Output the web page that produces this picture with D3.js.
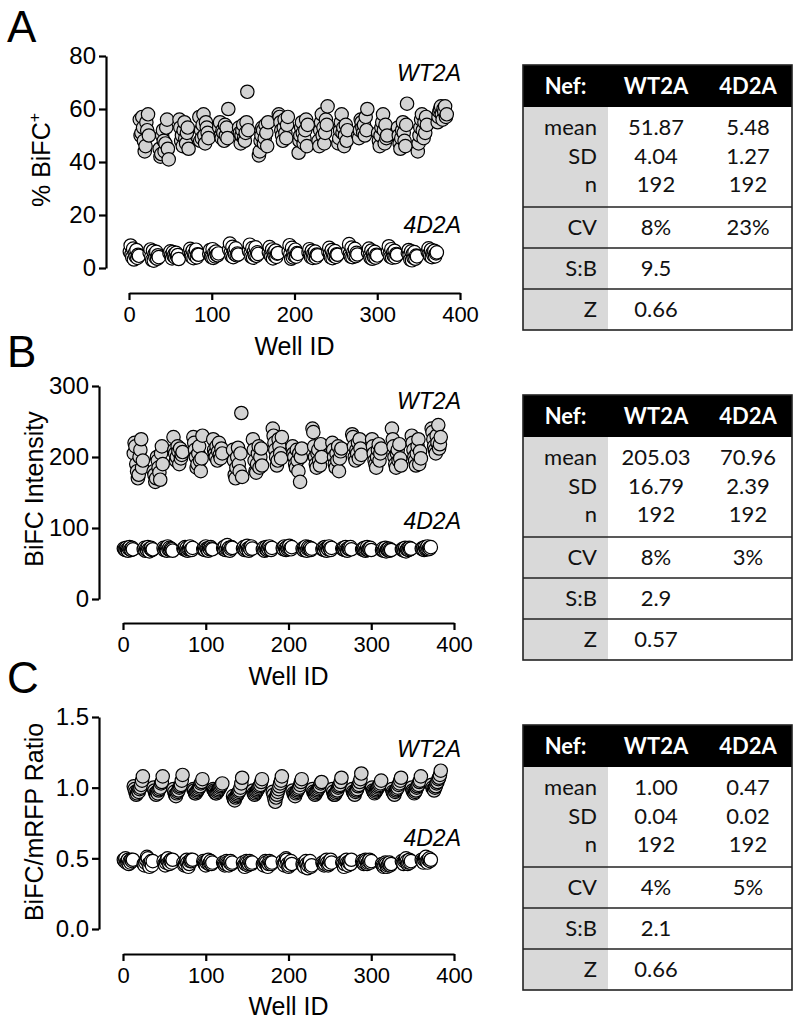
<!DOCTYPE html>
<html><head><meta charset="utf-8">
<script src="https://cdn.jsdelivr.net/npm/d3@7"></script>
<style>body{margin:0;background:#fff}svg{display:block}</style>
</head><body>
<svg id="c" width="800" height="1024"></svg>
<script>
// ---- plate layout (Well IDs): 16 rows x 24 columns, 4D2A in columns 1-12, WT2A in 13-24
const plateRows = 16, plateCols = 24, halfCols = 12;
const wells4D = d3.range(plateRows).flatMap(r => d3.range(halfCols).map(i => r * plateCols + 1 + i));
const wellsWT = d3.range(plateRows).flatMap(r => d3.range(halfCols).map(i => r * plateCols + halfCols + 1 + i));

// ---- Panel A: % BiFC+
const A_WT = [
 56,50,51,57,53,48,44,46,55,52,58,50, 45,42,43,50,52,48,44,47,53,56,45,41,
 56,53,48,50,46,52,55,49,47,51,53,45, 57,48,52,49,54,58,50,47,55,53,51,49,
 53,55,50,49,52,51,48,54,50,53,49,60, 53,51,47,50,52,54,49,48,51,55,66.5,52,
 42.5,44,48,50,53,52,47,49,54,51,46,55, 58,57,55,52,50,48,53,56,51,49,54,57,
 43.5,48,50,53,55,51,47,49,52,56,46,54, 48,46,52,55,58,50,53,47,51,56,54,61,
 47,49,52,55,58,51,53,46,50,54,48,52, 50,49,52,56,55,53,51,54,50,57,52,60,
 51,48,46,50,53,55,58,52,47,54,49,50, 53,50,47,45,49,52,55,51,48,46,54,62,
 44,47,50,53,56,58,52,49,55,51,57,54, 55,57,59,60,61,58,56,60,59,61,57,58];
const A_4D = [
 6.2,8.5,5.1,4.0,7.3,3.2,5.6,4.4,6.8,3.8,5.0,4.6, 5.8,7.0,4.2,3.0,6.5,2.8,5.3,4.0,6.1,3.5,4.8,4.1,
 5.5,6.3,4.8,3.6,6.0,4.5,5.2,3.9,5.7,4.3,4.9,3.4, 6.0,7.2,5.1,4.2,6.6,3.7,5.4,4.6,6.9,4.0,5.2,5.0,
 5.3,6.8,4.5,4.0,7.1,3.8,5.7,4.4,6.2,5.0,4.8,5.5, 7.0,9.2,5.8,4.5,8.0,4.1,6.3,5.2,7.4,4.8,5.5,5.1,
 6.5,8.8,5.5,4.2,7.5,3.9,6.2,4.9,7.8,4.6,5.9,5.3, 6.0,7.9,5.0,4.3,7.0,3.6,5.8,4.7,6.6,4.2,5.4,5.6,
 6.3,8.6,5.2,3.5,7.6,4.0,5.9,4.6,6.9,4.3,5.6,5.3, 5.9,7.1,4.9,4.1,6.5,3.8,5.5,4.4,6.2,4.0,5.1,4.8,
 6.1,7.6,5.3,4.0,6.8,3.7,5.6,4.5,6.4,4.2,5.2,5.0, 6.6,9.0,5.4,4.3,7.7,4.1,6.0,4.8,7.2,4.5,5.7,5.1,
 5.8,7.3,4.8,3.8,6.6,3.5,5.4,4.2,6.1,3.9,5.0,4.7, 6.3,8.2,5.1,4.2,7.1,3.9,5.7,4.6,6.5,4.1,5.3,5.0,
 5.7,6.8,4.9,3.2,6.3,2.9,5.3,3.8,6.0,3.5,4.7,4.4, 6.2,7.4,5.4,4.5,6.9,4.1,5.8,4.8,6.5,4.4,5.5,5.9];

// ---- Panel B: BiFC Intensity
const B_WT = [
 205,220,215,190,180,170,175,200,210,225,185,195, 180,175,165,170,200,195,185,178,168,205,215,190,
 228,210,205,195,200,215,208,190,212,198,203,207, 228,220,210,200,185,190,205,215,195,180,198,230,
 225,210,205,200,215,195,208,220,203,198,212,205, 210,195,175,170,185,200,213,190,180,205,262,172,
 225,210,195,180,178,190,205,215,185,200,212,188, 240,230,220,210,200,188,195,225,215,205,198,228,
 215,205,200,190,185,210,195,180,205,165,200,212, 240,235,215,200,190,185,205,210,195,188,218,200,
 220,210,200,190,185,205,195,215,180,198,208,212, 232,228,215,200,195,210,205,220,198,225,212,203,
 225,215,205,195,190,185,200,210,218,195,205,212, 240,225,215,200,190,185,205,210,195,218,198,188,
 230,220,210,200,195,188,205,215,225,190,208,198, 240,235,225,215,210,205,230,220,245,212,218,228];
const B_4D = [
 71,70,69,72,70,68,71,73,70,69,72,70, 70,72,68,71,69,73,70,67,71,72,69,70,
 72,69,71,70,68,74,70,72,69,71,70,68, 71,70,73,69,72,68,70,71,74,70,69,72,
 70,72,69,74,71,70,68,72,70,73,71,70, 72,70,74,69,71,76,70,72,68,71,73,72,
 71,73,69,72,70,75,71,68,72,70,74,71, 70,72,68,71,73,69,72,70,74,71,69,72,
 72,70,74,71,69,73,70,72,75,71,70,73, 71,69,72,70,74,68,71,73,70,72,69,71,
 70,72,69,73,71,68,72,70,74,71,69,72, 71,70,72,69,73,70,68,71,72,70,73,70,
 70,71,69,72,68,70,73,69,71,70,72,69, 69,71,68,70,72,67,70,69,71,68,70,69,
 70,69,71,68,72,67,70,71,69,72,70,71, 71,70,72,69,73,70,71,74,70,72,71,73];

// ---- Panel C: BiFC/mRFP Ratio
const C_WT = [
 1.01,0.99,0.97,0.95,0.96,0.98,0.97,0.99,1.00,1.02,1.05,1.08, 1.00,0.98,0.96,0.95,0.97,0.96,0.98,0.99,1.00,1.03,1.04,1.08,
 0.99,0.97,0.95,0.94,0.96,0.97,0.98,1.00,1.01,1.02,1.05,1.09, 0.99,0.98,0.96,0.96,0.97,0.98,0.99,1.00,1.01,1.03,1.04,1.06,
 0.99,0.98,0.97,0.96,0.96,0.97,0.98,0.99,1.00,1.01,1.02,1.03, 0.94,0.92,0.91,0.93,0.94,0.95,0.96,0.97,0.98,1.00,1.03,1.07,
 0.98,0.96,0.95,0.96,0.97,0.98,0.99,1.00,1.01,1.02,1.04,1.06, 0.97,0.95,0.92,0.90,0.93,0.95,0.97,0.99,1.01,1.03,1.05,1.08,
 0.98,0.96,0.95,0.94,0.96,0.97,0.98,0.99,1.00,1.02,1.04,1.06, 0.99,0.97,0.96,0.95,0.96,0.97,0.98,0.99,1.00,1.01,1.03,1.04,
 0.99,0.97,0.95,0.95,0.96,0.97,0.98,1.00,1.01,1.02,1.04,1.07, 0.99,0.97,0.96,0.95,0.97,0.98,0.99,1.01,1.02,1.04,1.06,1.10,
 1.00,0.98,0.97,0.96,0.97,0.98,0.99,1.00,1.01,1.02,1.03,1.05, 0.99,0.97,0.96,0.95,0.97,0.98,0.99,1.00,1.02,1.03,1.05,1.07,
 1.00,0.98,0.97,0.96,0.97,0.98,1.00,1.01,1.02,1.04,1.05,1.08, 1.02,1.00,0.99,0.98,1.00,1.01,1.03,1.04,1.06,1.07,1.09,1.12];
const C_4D = [
 0.49,0.48,0.50,0.47,0.48,0.49,0.46,0.48,0.47,0.49,0.48,0.49, 0.46,0.45,0.47,0.49,0.51,0.50,0.46,0.44,0.47,0.48,0.45,0.48,
 0.48,0.46,0.45,0.47,0.49,0.50,0.47,0.46,0.48,0.49,0.47,0.49, 0.47,0.45,0.46,0.48,0.49,0.47,0.44,0.46,0.48,0.49,0.48,0.49,
 0.48,0.47,0.46,0.45,0.47,0.48,0.49,0.46,0.47,0.48,0.46,0.47, 0.47,0.46,0.45,0.46,0.48,0.47,0.46,0.45,0.47,0.48,0.46,0.47,
 0.47,0.45,0.44,0.46,0.48,0.47,0.45,0.46,0.48,0.47,0.46,0.47, 0.46,0.45,0.47,0.48,0.47,0.45,0.44,0.46,0.48,0.47,0.46,0.47,
 0.48,0.46,0.45,0.47,0.50,0.49,0.46,0.44,0.45,0.47,0.48,0.46, 0.46,0.45,0.44,0.47,0.48,0.46,0.43,0.45,0.47,0.48,0.44,0.45,
 0.47,0.46,0.45,0.46,0.48,0.49,0.47,0.45,0.46,0.48,0.49,0.47, 0.47,0.46,0.44,0.46,0.48,0.49,0.47,0.45,0.47,0.48,0.46,0.49,
 0.48,0.47,0.46,0.47,0.49,0.48,0.46,0.47,0.48,0.49,0.47,0.48, 0.46,0.45,0.44,0.45,0.47,0.46,0.44,0.45,0.46,0.47,0.45,0.46,
 0.48,0.47,0.46,0.48,0.49,0.50,0.48,0.46,0.47,0.49,0.47,0.48, 0.49,0.48,0.47,0.49,0.50,0.51,0.48,0.47,0.49,0.50,0.48,0.49];

// ---- ticks
const xTicks = [0, 100, 200, 300, 400];
const yTicksA = [0, 20, 40, 60, 80];
const yTicksB = [0, 100, 200, 300];
const yTicksC = [0, 0.5, 1.0, 1.5];

// ---- tables
const tableHeader = ["Nef:", "WT2A", "4D2A"];
const tableRowLabels = ["mean", "SD", "n", "CV", "S:B", "Z"];
const statsA_WT = ["51.87", "4.04", "192", "8%", "9.5", "0.66"];
const statsA_4D = ["5.48", "1.27", "192", "23%", "", ""];
const statsB_WT = ["205.03", "16.79", "192", "8%", "2.9", "0.57"];
const statsB_4D = ["70.96", "2.39", "192", "3%", "", ""];
const statsC_WT = ["1.00", "0.04", "192", "4%", "2.1", "0.66"];
const statsC_4D = ["0.47", "0.02", "192", "5%", "", ""];

const FONT = "'Liberation Sans', Arial, Helvetica, sans-serif";
const TFONT = "Lato, 'Open Sans', sans-serif";
const svg = d3.select("#c");

const panels = [
  {letter: "A", letterY: 42, wt: A_WT, d4: A_4D, yDomain: [0, 80], yTicks: yTicksA, yFmt: d3.format("d"),
   ytitle: "% BiFC", sup: "+", titleX: 50, titleY: 160,
   yAxisX: 106, yTop: 56, yBot: 268, xAxisY: 293, xL: 129, xR: 460, wellY: 355,
   wtLabY: 81, d4LabY: 233, tableTop: 65, sWT: statsA_WT, s4D: statsA_4D},
  {letter: "B", letterY: 367, wt: B_WT, d4: B_4D, yDomain: [0, 300], yTicks: yTicksB, yFmt: d3.format("d"),
   ytitle: "BiFC Intensity", sup: null, titleX: 43, titleY: 489,
   yAxisX: 99, yTop: 386, yBot: 599, xAxisY: 623, xL: 123, xR: 454, wellY: 685,
   wtLabY: 409, d4LabY: 529, tableTop: 395, sWT: statsB_WT, s4D: statsB_4D},
  {letter: "C", letterY: 693, wt: C_WT, d4: C_4D, yDomain: [0, 1.5], yTicks: yTicksC, yFmt: d3.format(".1f"),
   ytitle: "BiFC/mRFP Ratio", sup: null, titleX: 43, titleY: 822,
   yAxisX: 99, yTop: 717, yBot: 929, xAxisY: 954, xL: 123, xR: 454, wellY: 1015,
   wtLabY: 757, d4LabY: 846, tableTop: 725, sWT: statsC_WT, s4D: statsC_4D}
];

function styleAxis(g, size) {
  g.attr("font-family", null).attr("font-size", null);
  g.select(".domain").attr("stroke", "#000").attr("stroke-width", 2.2);
  g.selectAll(".tick line").attr("stroke", "#000").attr("stroke-width", 2.2);
  g.selectAll(".tick text").attr("fill", "#000").style("font-family", FONT).style("font-size", size);
}

panels.forEach(p => {
  const x = d3.scaleLinear().domain([0, 400]).range([p.xL, p.xR]);
  const y = d3.scaleLinear().domain(p.yDomain).range([p.yBot, p.yTop]);

  svg.append("text").attr("x", 7).attr("y", p.letterY).text(p.letter)
    .style("font-family", FONT).style("font-size", "44px").attr("fill", "#000");

  const gy = svg.append("g").attr("transform", `translate(${p.yAxisX},0)`)
    .call(d3.axisLeft(y).tickValues(p.yTicks).tickFormat(p.yFmt).tickSize(7).tickSizeOuter(0).tickPadding(3));
  styleAxis(gy, "24px");

  const gx = svg.append("g").attr("transform", `translate(0,${p.xAxisY})`)
    .call(d3.axisBottom(x).tickValues(xTicks).tickFormat(d3.format("d")).tickSize(7).tickSizeOuter(0).tickPadding(6));
  styleAxis(gx, "22px");

  svg.append("text").attr("x", (p.xL + p.xR) / 2).attr("y", p.wellY).attr("text-anchor", "middle")
    .text("Well ID").style("font-family", FONT).style("font-size", "25px");

  const t = svg.append("text").attr("transform", `translate(${p.titleX},${p.titleY}) rotate(-90)`)
    .attr("text-anchor", "middle").style("font-family", FONT).style("font-size", "25px");
  t.append("tspan").text(p.ytitle);
  if (p.sup) t.append("tspan").attr("dy", "-0.6em").style("font-size", "16px").text(p.sup);

  // points
  const gp = svg.append("g");
  gp.selectAll("circle.wt").data(p.wt).join("circle").attr("class", "wt")
    .attr("cx", (d, i) => x(wellsWT[i])).attr("cy", d => y(d)).attr("r", 6.7)
    .attr("fill", "#d3d3d3").attr("stroke", "#000").attr("stroke-width", 1.2);
  gp.selectAll("circle.d4").data(p.d4).join("circle").attr("class", "d4")
    .attr("cx", (d, i) => x(wells4D[i])).attr("cy", d => y(d)).attr("r", 6.7)
    .attr("fill", "#fff").attr("stroke", "#000").attr("stroke-width", 1.2);

  svg.append("text").attr("x", 461).attr("y", p.wtLabY).attr("text-anchor", "end").text("WT2A")
    .style("font-family", FONT).style("font-size", "23px").style("font-style", "italic");
  svg.append("text").attr("x", 461).attr("y", p.d4LabY).attr("text-anchor", "end").text("4D2A")
    .style("font-family", FONT).style("font-size", "23px").style("font-style", "italic");

  // table
  const tx0 = 523, tx1 = 792, gx1 = 608, c1 = 656, c2 = 748, top = p.tableTop;
  const hH = 42, bottom = top + 265;
  const tg = svg.append("g");
  tg.append("rect").attr("x", tx0).attr("y", top).attr("width", tx1 - tx0).attr("height", hH).attr("fill", "#000");
  tg.append("rect").attr("x", tx0).attr("y", top + hH).attr("width", gx1 - tx0).attr("height", bottom - top - hH).attr("fill", "#d9d9d9");
  [142, 183, 224].forEach(o => tg.append("line").attr("x1", tx0).attr("x2", tx1).attr("y1", top + o).attr("y2", top + o)
    .attr("stroke", "#222").attr("stroke-width", 1.6));
  tg.append("rect").attr("x", tx0).attr("y", top).attr("width", tx1 - tx0).attr("height", bottom - top)
    .attr("fill", "none").attr("stroke", "#222").attr("stroke-width", 1.6);
  const hx = [(tx0 + gx1) / 2, c1, c2];
  tableHeader.forEach((h, i) => tg.append("text").attr("x", hx[i]).attr("y", top + 29).attr("text-anchor", "middle")
    .text(h).attr("fill", "#fff").style("font-family", TFONT).style("font-size", "22px").style("font-weight", "bold"));
  const rowY = [70, 99, 127, 170, 211, 252];
  tableRowLabels.forEach((r, i) => {
    tg.append("text").attr("x", 597).attr("y", top + rowY[i]).attr("text-anchor", "end").text(r)
      .style("font-family", TFONT).style("font-size", "22px").attr("fill", "#111");
    tg.append("text").attr("x", c1).attr("y", top + rowY[i]).attr("text-anchor", "middle").text(p.sWT[i])
      .style("font-family", TFONT).style("font-size", "22px").attr("fill", "#111");
    tg.append("text").attr("x", c2).attr("y", top + rowY[i]).attr("text-anchor", "middle").text(p.s4D[i])
      .style("font-family", TFONT).style("font-size", "22px").attr("fill", "#111");
  });
});
</script>
</body></html>
